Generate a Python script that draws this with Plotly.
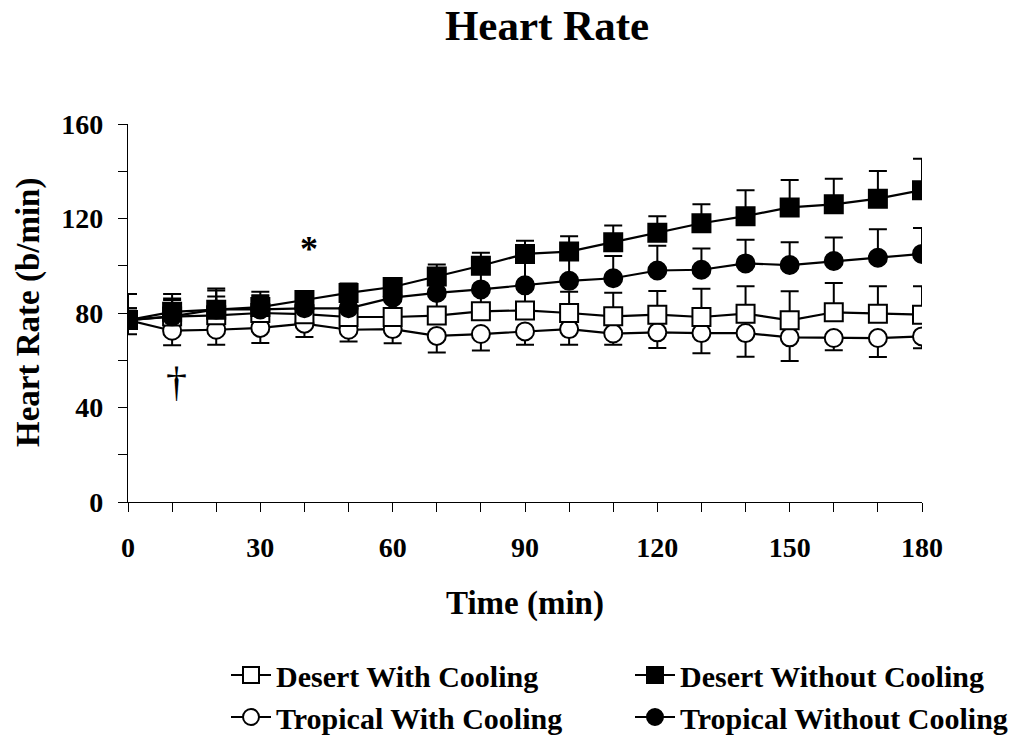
import plotly.graph_objects as go

time_min = [0, 10, 20, 30, 40, 50, 60, 70, 80, 90, 100, 110, 120, 130, 140, 150, 160, 170, 180]

desert_with = [77, 78.5, 79, 80, 79.5, 78.3, 78.3, 78.9, 80.7, 81.1, 80, 78.6, 79.3, 78.3, 79.7, 76.9, 80.3, 79.7, 79.3]
desert_with_err = [5, 7, 8, 7, 6, 7, 8, 9, 9, 9, 9, 10, 10, 12, 11.6, 12.3, 12.4, 11.6, 12]

desert_without = [77, 80.5, 81.4, 82.5, 85.5, 88.5, 91, 95.5, 100, 105, 106, 110, 114, 118, 121, 124.7, 126, 128.4, 132]
desert_without_err = [11, 7.5, 9, 6.5, 3, 4, 3.5, 5, 5.5, 5.6, 6.5, 7, 7, 8, 11, 11.6, 10.8, 11.7, 13.3]

tropical_with = [77, 72.5, 72.9, 73.7, 75.5, 72.9, 73.2, 70.3, 71.1, 72.2, 73.2, 71.3, 71.8, 71.5, 71.5, 69.7, 69.4, 69.4, 70.1]
tropical_with_err = [6, 6.2, 6.3, 6.4, 5.7, 5, 6, 7, 7, 5.6, 6.6, 4.7, 6.6, 8.5, 10, 10, 5.2, 8, 5]

tropical_without = [77, 78.6, 81.5, 81.5, 82, 82, 86.5, 88.5, 90, 91.7, 93.6, 94.7, 98, 98.3, 101, 100.3, 102, 103.4, 105]
tropical_without_err = [5, 7.5, 8, 6, 5, 5, 6, 8, 9, 10, 10, 9.4, 10.5, 9, 10, 9.7, 10, 12, 11]

x_ticks = [0, 30, 60, 90, 120, 150, 180]
y_ticks = [0, 40, 80, 120, 160]

FONT = "Liberation Serif"
W, H = 1028, 738
ML, MR, MT, MB = 128, 106, 124, 236
PW, PH = W - ML - MR, H - MT - MB
zeros = [0] * len(time_min)

fig = go.Figure()

def add(name, y, err, symbol, fill, up, legend, rank):
    ed = dict(type="data", symmetric=False, color="black", thickness=2, width=9)
    if up:
        ed.update(array=err, arrayminus=zeros)
    else:
        ed.update(array=zeros, arrayminus=err)
    fig.add_trace(go.Scatter(
        x=time_min, y=y, name=name, mode="lines+markers",
        line=dict(color="black", width=2.2),
        marker=dict(symbol=symbol, size=18, color=fill, line=dict(color="black", width=2)),
        error_y=ed, legend=legend, legendrank=rank,
    ))

add("Tropical With Cooling", tropical_with, tropical_with_err, "circle", "white", False, "legend", 2)
add("Desert With Cooling", desert_with, desert_with_err, "square", "white", True, "legend", 1)
add("Tropical Without Cooling", tropical_without, tropical_without_err, "circle", "black", True, "legend2", 2)
add("Desert Without Cooling", desert_without, desert_without_err, "square", "black", True, "legend2", 1)

fig.add_annotation(x=41, y=107, text="*", showarrow=False, xref="x", yref="y",
                   font=dict(family=FONT, size=36, color="black", weight="bold"))
fig.add_annotation(x=11, y=51, text="†", showarrow=False, xref="x", yref="y",
                   font=dict(family=FONT, size=42, color="black", weight="normal"))

# axis titles (paper coordinates relative to the plot area)
fig.add_annotation(x=0.5, xref="paper", y=(H - MB - 603) / PH, yref="paper", yanchor="middle",
                   text="Time (min)", showarrow=False,
                   font=dict(family=FONT, size=33, color="black", weight="bold"))
fig.add_annotation(x=(28 - ML) / PW, xref="paper", xanchor="center", y=0.5, yref="paper",
                   yanchor="middle", text="Heart Rate (b/min)", textangle=-90, showarrow=False,
                   font=dict(family=FONT, size=33, color="black", weight="bold"))

legend_common = dict(
    orientation="v", xref="container", yref="container", xanchor="left", yanchor="top",
    font=dict(family=FONT, size=30, color="black", weight="bold"),
    bgcolor="rgba(0,0,0,0)", borderwidth=0, tracegroupgap=0, itemwidth=40,
)

fig.update_layout(
    width=W, height=H,
    paper_bgcolor="white", plot_bgcolor="white",
    margin=dict(l=ML, r=MR, t=MT, b=MB, autoexpand=False),
    font=dict(family=FONT, color="black"),
    title=dict(text="Heart Rate", x=547 / W, xref="container", xanchor="center",
               y=1 - 25 / H, yref="container", yanchor="middle",
               font=dict(family=FONT, size=43, color="black", weight="bold")),
    showlegend=True,
    legend=dict(x=226 / W, y=1 - 649 / H, **legend_common),
    legend2=dict(x=630 / W, y=1 - 649 / H, **legend_common),
    xaxis=dict(
        range=[0, 180], tickvals=x_ticks, ticktext=[str(v) for v in x_ticks],
        showgrid=False, zeroline=False, showline=True, linecolor="black", linewidth=1.3,
        ticks="outside", ticklen=9, tickwidth=1.3, tickcolor="black",
        minor=dict(dtick=10, tick0=0, ticks="outside", ticklen=9, tickwidth=1.3, tickcolor="black", showgrid=False),
        tickfont=dict(family=FONT, size=28, color="black", weight="bold"),
        ticklabelstandoff=11, automargin=False,
    ),
    yaxis=dict(
        range=[0, 160], tickvals=y_ticks, ticktext=[str(v) for v in y_ticks],
        showgrid=False, zeroline=False, showline=True, linecolor="black", linewidth=1.3,
        ticks="outside", ticklen=9, tickwidth=1.3, tickcolor="black",
        minor=dict(dtick=20, tick0=0, ticks="outside", ticklen=9, tickwidth=1.3, tickcolor="black", showgrid=False),
        tickfont=dict(family=FONT, size=28, color="black", weight="bold"),
        ticklabelstandoff=9, automargin=False,
    ),
)

fig.write_html("out.html", config={"displayModeBar": False},
               post_script="document.body.style.margin='0px';")
